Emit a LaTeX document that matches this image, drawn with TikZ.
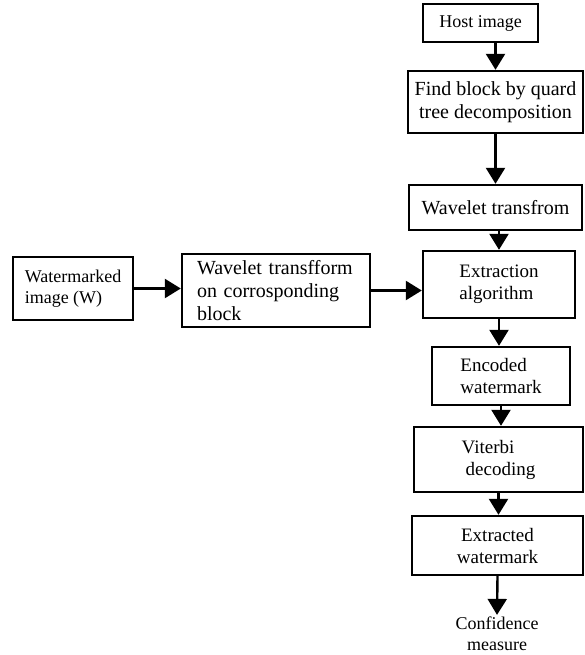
\documentclass[tikz,border=0pt]{standalone}
\usepackage{fontspec}
\setmainfont{Liberation Serif}
\usetikzlibrary{arrows.meta}
\begin{document}
\begin{tikzpicture}[
    x=1pt, y=-1pt,
    stepbox/.style={rectangle, draw, line width=2.4pt, inner sep=2pt, font=\fontsize{19}{22}\selectfont},
    bigtext/.style={font=\fontsize{20}{23}\selectfont},
    smalltext/.style={font=\fontsize{18}{21}\selectfont},
    flowarr/.style={line width=2.4pt, -{Triangle[length=16pt, width=19pt]}}
]
    \useasboundingbox (0,0) rectangle (584,655);

    % right column
    \node[stepbox, smalltext, minimum width=115pt, minimum height=38pt] (host) at (480.5, 23) {Host image};
    \node[stepbox, bigtext, minimum width=175pt, minimum height=62pt, align=center] (find) at (495.5, 102) {Find block by quard\\tree decomposition};
    \node[stepbox, bigtext, minimum width=173pt, minimum height=45pt] (wave) at (495.5, 207.5) {Wavelet transfrom};
    \node[stepbox, minimum width=152pt, minimum height=67pt, align=left] (extr) at (499, 284.5) {Extraction\\algorithm};
    \node[stepbox, minimum width=138pt, minimum height=58pt, align=left] (encd) at (501, 376) {Encoded\\watermark};
    \node[stepbox, minimum width=169pt, minimum height=65pt, align=left] (vit) at (498.5, 459.5) {Viterbi\\\hspace{4pt}decoding};
    \node[stepbox, minimum width=171pt, minimum height=59pt, align=center] (extd) at (497.5, 545.5) {Extracted\\watermark};
    \node[smalltext, align=center, inner sep=2pt] (conf) at (497, 634) {Confidence\\measure};

    % left row
    \node[stepbox, smalltext, minimum width=120pt, minimum height=63pt, align=left] (wm) at (73, 288.5) {Watermarked\\image (W)};
    \node[stepbox, bigtext, minimum width=188pt, minimum height=73pt, align=left, text width=158pt] (wt) at (276, 290.5) {Wavelet transfform\\on corrosponding\\block};

    % arrows
    \draw[flowarr] (find.north |- host.south) -- (find.north);
    \draw[flowarr] (find.south) -- (wave.north);
    \draw[flowarr] (extr.north |- wave.south) -- (extr.north);
    \draw[flowarr] (wm.east) -- (wm.east -| wt.west);
    \draw[flowarr] (wt.east) -- (wt.east -| extr.west);
    \draw[flowarr] (extr.south) -- (extr.south |- encd.north);
    \draw[flowarr] (encd.south) -- (encd.south |- vit.north);
    \draw[flowarr] (vit.south) -- (vit.south |- extd.north);
    \draw[flowarr] (extd.south) -- (conf.north);
\end{tikzpicture}
\end{document}
